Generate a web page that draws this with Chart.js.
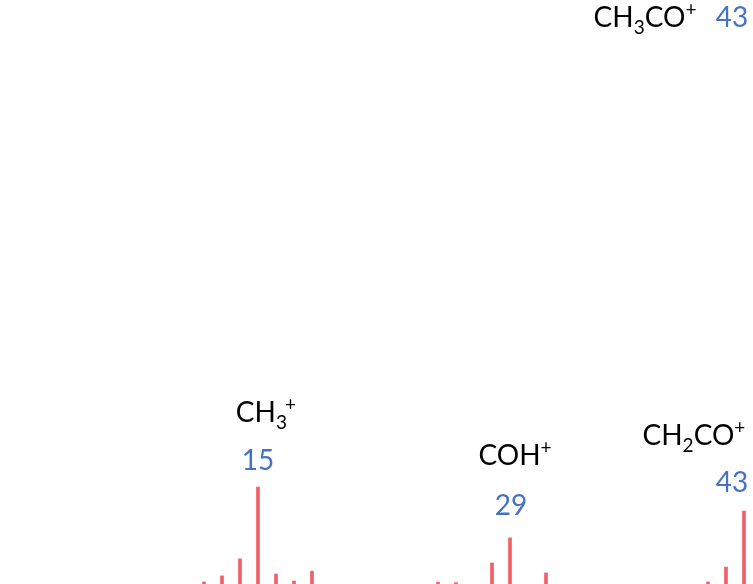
<!DOCTYPE html>
<html>
<head>
<meta charset="utf-8">
<script src="https://cdn.jsdelivr.net/npm/chart.js@4.4.1/dist/chart.umd.min.js"></script>
<style>
html,body{margin:0;padding:0;background:#fff;}
#wrap{width:753px;height:584px;position:relative;}
</style>
</head>
<body>
<div id="wrap"><canvas id="c"></canvas></div>
<script>
// m/z values and relative intensities
const mz        = [12, 13, 14, 15, 16, 17, 18, 25, 26, 28, 29, 31, 40, 41, 42, 43];
const intensity = [0.35, 1.4, 4.3, 16.6, 1.7, 0.5, 2.2, 0.3, 0.25, 3.6, 7.9, 1.9, 0.35, 2.9, 12.5, 100];

// annotation texts
const ionLabels = [
  [{t:'CH'},{t:'3',sub:true},{t:'+',sup:true,gap:-2}],
  [{t:'COH'},{t:'+',sup:true}],
  [{t:'CH'},{t:'2',sub:true},{t:'CO'},{t:'+',sup:true}],
  [{t:'CH'},{t:'3',sub:true},{t:'CO'},{t:'+',sup:true}]
];
const massLabels = ['15', '29', '43', '43'];

// anchor positions (data coordinates: m/z, intensity) for the annotations
const ionAnchors  = [[15.44, 27.7], [29.28, 20.4], [39.22, 23.8], [36.5, 95.4]];
const massAnchors = [[15.0, 19.5], [29.06, 11.8], [41.33, 15.75], [41.33, 95.4]];

const FONT = 'Lato, "Open Sans", sans-serif';
const MAIN = 28, SMALL = 19;

function partWidth(ctx, p){
  ctx.font = (p.sub||p.sup ? SMALL : MAIN) + 'px ' + FONT;
  return ctx.measureText(p.t).width + (p.gap||0);
}

const labelPlugin = {
  id: 'labels',
  afterDatasetsDraw(chart){
    const ctx = chart.ctx, xs = chart.scales.x, ys = chart.scales.y;
    ctx.save();
    ctx.textBaseline = 'alphabetic';
    ctx.textAlign = 'left';
    ionLabels.forEach((parts, i) => {
      const cx = xs.getPixelForValue(ionAnchors[i][0]);
      const by = ys.getPixelForValue(ionAnchors[i][1]);
      let w = 0; parts.forEach(p => w += partWidth(ctx, p));
      let x = cx - w/2;
      ctx.fillStyle = '#000';
      parts.forEach(p => {
        ctx.font = (p.sub||p.sup ? SMALL : MAIN) + 'px ' + FONT;
        const dy = p.sub ? 7 : (p.sup ? -11 : 0);
        x += (p.gap||0);
        ctx.fillText(p.t, x, by + dy);
        x += ctx.measureText(p.t).width;
      });
    });
    ctx.fillStyle = '#4472C4';
    ctx.textAlign = 'center';
    ctx.font = MAIN + 'px ' + FONT;
    massLabels.forEach((t, i) => {
      ctx.fillText(t, xs.getPixelForValue(massAnchors[i][0]), ys.getPixelForValue(massAnchors[i][1]));
    });
    ctx.restore();
  }
};

new Chart(document.getElementById('c'), {
  type: 'bar',
  data: {
    datasets: [{
      data: mz.map((m, i) => ({x: m, y: intensity[i]})),
      backgroundColor: '#f06068',
      borderWidth: 0,
      barThickness: 3
    }]
  },
  options: {
    responsive: true,
    maintainAspectRatio: false,
    animation: false,
    layout: {padding: 0},
    plugins: {legend: {display: false}, tooltip: {enabled: false}},
    scales: {
      x: {type: 'linear', min: 0.667, max: 42.5, display: false, offset: false, grid: {display: false}},
      y: {min: 0, max: 100, display: false, grid: {display: false}}
    }
  },
  plugins: [labelPlugin]
});
</script>
</body>
</html>
